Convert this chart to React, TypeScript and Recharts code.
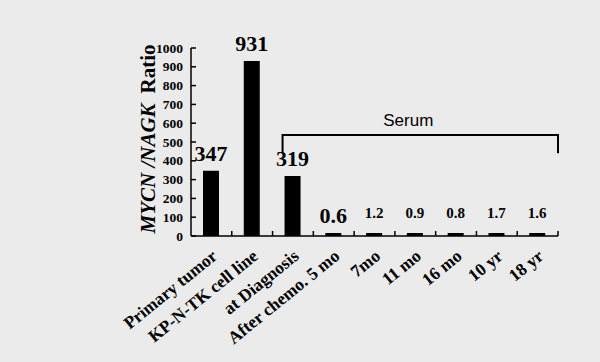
import React from "react";
import { BarChart, Bar, XAxis, YAxis, ReferenceArea, LabelList } from "recharts";

const categories = [
  "Primary tumor",
  "KP-N-TK cell line",
  "at Diagnosis",
  "After chemo. 5 mo",
  "7mo",
  "11 mo",
  "16 mo",
  "10 yr",
  "18 yr",
];
const ratios = [347, 931, 319, 0.6, 1.2, 0.9, 0.8, 1.7, 1.6];
const valueLabels = ["347", "931", "319", "0.6", "1.2", "0.9", "0.8", "1.7", "1.6"];
const yTicks = [0, 100, 200, 300, 400, 500, 600, 700, 800, 900, 1000];
const serumFrom = "at Diagnosis";
const serumTo = "18 yr";
const serumRange = [440, 537];

const data = categories.map((name, i) => ({ name, ratio: ratios[i], label: valueLabels[i] }));

const SERIF = '"Liberation Serif", "Times New Roman", serif';
const SANS = '"Liberation Sans", Arial, sans-serif';

function YTick({ x, y, payload }: any) {
  return (
    <g>
      <line x1={x + 8} x2={x + 13} y1={y} y2={y} stroke="#000" strokeWidth={1.5} />
      <text x={x} y={y} dy={4.5} textAnchor="end" fontFamily={SERIF} fontWeight="bold" fontSize={13.5} fill="#000">
        {payload.value}
      </text>
    </g>
  );
}

function XTick({ x, y, payload }: any) {
  const half = payload.offset || 20.4;
  return (
    <g>
      <line x1={x + half} x2={x + half} y1={y} y2={y - 5} stroke="#000" strokeWidth={1.5} />
      <text
        transform={`translate(${x + 7},${y + 22}) rotate(-39)`}
        textAnchor="end"
        fontFamily={SERIF}
        fontWeight="bold"
        fontSize={17.5}
        fill="#000"
      >
        {payload.value}
      </text>
    </g>
  );
}

function ValueLabel({ x, y, width, value, index }: any) {
  const big = index < 4;
  return (
    <text
      x={x + width / 2}
      y={y - (big ? 10 : 15)}
      textAnchor="middle"
      fontFamily={SERIF}
      fontWeight="bold"
      fontSize={big ? 22 : 15}
      fill="#000"
    >
      {value}
    </text>
  );
}

function Bracket({ x, y, width, height }: any) {
  const left = x + 10;
  const right = x + width;
  return (
    <g>
      <path
        d={`M${left},${y + height} L${left},${y} L${right},${y} L${right},${y + height}`}
        fill="none"
        stroke="#000"
        strokeWidth={2}
      />
      <text x={(left + right) / 2 - 12} y={y - 9} textAnchor="middle" fontFamily={SANS} fontSize={17} fill="#000">
        Serum
      </text>
    </g>
  );
}

function YLabel({ viewBox }: any) {
  const cx = viewBox.x + viewBox.width - 36;
  const cy = viewBox.y + viewBox.height / 2 - 3;
  return (
    <text
      transform={`translate(${cx},${cy}) rotate(-90)`}
      textAnchor="middle"
      fontFamily={SERIF}
      fontWeight="bold"
      fontSize={21}
      fill="#000"
    >
      <tspan fontStyle="italic">MYCN /NAGK</tspan>
      <tspan dx={10}>Ratio</tspan>
    </text>
  );
}

export default function App() {
  return (
    <div style={{ position: "absolute", left: 0, top: 0, width: 600, height: 362, background: "#ebebeb" }}>
      <BarChart
        width={600}
        height={362}
        data={data}
        margin={{ top: 48, right: 42, left: 0, bottom: 0 }}
      >
        <XAxis
          dataKey="name"
          height={126}
          interval={0}
          tickSize={0}
          tickMargin={0}
          tickLine={false}
          axisLine={{ stroke: "#000", strokeWidth: 1.5 }}
          tick={<XTick />}
        />
        <YAxis
          width={191}
          domain={[0, 1000]}
          ticks={yTicks}
          interval={0}
          tickSize={0}
          tickMargin={8}
          tickLine={false}
          axisLine={{ stroke: "#000", strokeWidth: 1.5 }}
          tick={<YTick />}
          label={<YLabel />}
        />
        <ReferenceArea
          x1={serumFrom}
          x2={serumTo}
          y1={serumRange[0]}
          y2={serumRange[1]}
          shape={<Bracket />}
          ifOverflow="visible"
        />
        <Bar dataKey="ratio" fill="#000" barSize={16} minPointSize={3} isAnimationActive={false}>
          <LabelList dataKey="label" content={<ValueLabel />} />
        </Bar>
      </BarChart>
    </div>
  );
}
